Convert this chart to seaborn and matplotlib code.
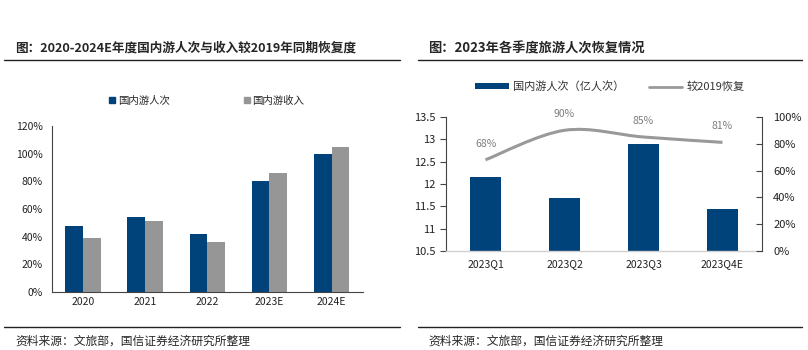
import numpy as np
import pandas as pd
import matplotlib
matplotlib.use("Agg")
import matplotlib.pyplot as plt
import seaborn as sns
from matplotlib.lines import Line2D
from matplotlib.patches import Patch, PathPatch
from matplotlib.path import Path
from matplotlib.ticker import FixedLocator, FuncFormatter

# ---- data ----
years = ["2020", "2021", "2022", "2023E", "2024E"]
trips_pct = [48, 54, 42, 80, 100]        # 国内游人次 vs 2019 (%)
revenue_pct = [39, 51, 36, 86, 105]      # 国内游收入 vs 2019 (%)

quarters = ["2023Q1", "2023Q2", "2023Q3", "2023Q4E"]
q_trips = [12.16, 11.68, 12.90, 11.45]   # 亿人次
q_recovery = [68, 90, 85, 81]            # 较2019恢复 (%)

BLUE = "#00427a"
GRAY = "#969696"
LINE_GRAY = "#999999"

sns.set_style("white")
plt.rcParams["font.family"] = ["Noto Sans CJK SC", "DejaVu Sans"]
plt.rcParams["axes.unicode_minus"] = False

fig = plt.figure(figsize=(8.08, 3.5), dpi=100)

# ---- left chart ----
ax1 = fig.add_axes([0.064, 0.166, 0.385, 0.474])
df1 = pd.DataFrame({
    "year": years * 2,
    "value": trips_pct + revenue_pct,
    "series": ["国内游人次"] * len(years) + ["国内游收入"] * len(years),
})
sns.barplot(data=df1, x="year", y="value", hue="series", palette=[BLUE, GRAY],
            width=0.57, gap=0, linewidth=0, saturation=1, ax=ax1, legend=False)
ax1.set_ylim(0, 120)
ax1.set_xlim(-0.5, len(years) - 0.5)
ax1.set_yticks(range(0, 121, 20))
ax1.yaxis.set_major_formatter(FuncFormatter(lambda v, p: f"{int(v)}%"))
ax1.xaxis.set_minor_locator(FixedLocator(np.arange(-0.5, len(years), 1.0)))
ax1.tick_params(axis="x", which="major", length=0, labelsize=7.5, pad=4, colors="#222222")
ax1.tick_params(axis="x", which="minor", length=3, width=0.8, color="#444444", direction="out")
ax1.tick_params(axis="y", length=3, width=0.8, color="#444444", direction="out",
                labelsize=7.5, labelcolor="#222222")
ax1.set_xlabel("")
ax1.set_ylabel("")
for s in ["top", "right"]:
    ax1.spines[s].set_visible(False)
for s in ["left", "bottom"]:
    ax1.spines[s].set_color("#444444")
    ax1.spines[s].set_linewidth(0.8)

h1 = [Line2D([], [], marker="s", linestyle="", color=BLUE, markersize=4),
      Line2D([], [], marker="s", linestyle="", color=GRAY, markersize=4)]
fig.legend(h1, ["国内游人次", "国内游收入"], loc="center", bbox_to_anchor=(0.255, 0.712),
           ncol=2, frameon=False, fontsize=7.5, handletextpad=0.1, columnspacing=7,
           handlelength=0.8)

# ---- right chart ----
ax2 = fig.add_axes([0.552, 0.283, 0.391, 0.383])
df2 = pd.DataFrame({"quarter": quarters, "trips": q_trips})
sns.barplot(data=df2, x="quarter", y="trips", color=BLUE, width=0.4,
            linewidth=0, saturation=1, ax=ax2)
ax2.set_ylim(10.5, 13.5)
ax2.set_xlim(-0.5, len(quarters) - 0.5)
ax2.set_yticks(np.arange(10.5, 13.51, 0.5))
ax2.yaxis.set_major_formatter(FuncFormatter(lambda v, p: f"{v:g}"))
ax2.xaxis.set_minor_locator(FixedLocator(np.arange(-0.5, len(quarters), 1.0)))
ax2.tick_params(axis="x", which="major", length=0, labelsize=7.5, pad=6, colors="#222222")
ax2.tick_params(axis="x", which="minor", length=3, width=0.8, color="#d0d0d0", direction="out")
ax2.tick_params(axis="y", length=4, width=0.8, color="#444444", direction="out",
                labelsize=8, labelcolor="#222222")
ax2.set_xlabel("")
ax2.set_ylabel("")
ax2.spines["top"].set_visible(False)
ax2.spines["right"].set_visible(False)
ax2.spines["left"].set_color("#444444")
ax2.spines["left"].set_linewidth(0.8)
ax2.spines["bottom"].set_color("#d0d0d0")
ax2.spines["bottom"].set_linewidth(1.0)

ax3 = ax2.twinx()
ax3.set_ylim(0, 100)
ax3.set_yticks(range(0, 101, 20))
ax3.yaxis.set_major_formatter(FuncFormatter(lambda v, p: f"{int(v)}%"))
ax3.tick_params(axis="y", length=4, width=0.8, color="#444444", direction="in",
                labelsize=8, labelcolor="#222222", pad=8)
for s in ["top", "left", "bottom"]:
    ax3.spines[s].set_visible(False)
ax3.spines["right"].set_color("#444444")
ax3.spines["right"].set_linewidth(0.8)

# smoothed recovery line (Catmull-Rom -> cubic Bezier through the data points)
xs = np.arange(len(quarters), dtype=float)
ys = np.array(q_recovery, dtype=float)
verts = [(xs[0], ys[0])]
codes = [Path.MOVETO]
for i in range(len(xs) - 1):
    p0 = np.array([xs[max(i - 1, 0)], ys[max(i - 1, 0)]])
    p1 = np.array([xs[i], ys[i]])
    p2 = np.array([xs[i + 1], ys[i + 1]])
    p3 = np.array([xs[min(i + 2, len(xs) - 1)], ys[min(i + 2, len(xs) - 1)]])
    c1 = p1 + (p2 - p0) / 6
    c2 = p2 - (p3 - p1) / 6
    verts += [tuple(c1), tuple(c2), tuple(p2)]
    codes += [Path.CURVE4] * 3
ax3.add_patch(PathPatch(Path(verts, codes), facecolor="none", edgecolor=LINE_GRAY,
                        linewidth=2.2, capstyle="butt"))
for x, y in zip(xs, ys):
    ax3.annotate(f"{int(y)}%", (x, y), xytext=(0, 8), textcoords="offset points",
                 ha="center", va="bottom", fontsize=7.5, color="#7f7f7f")

h2 = [Patch(facecolor=BLUE, edgecolor="none"),
      Line2D([], [], color=LINE_GRAY, linewidth=2)]
leg2 = fig.legend(h2, ["国内游人次（亿人次）", "较2019恢复"], loc="center",
                  bbox_to_anchor=(0.755, 0.752), ncol=2, frameon=False, fontsize=8,
                  handlelength=3.0, handleheight=0.5, handletextpad=0.4, columnspacing=2.2)
for t in leg2.get_texts():
    t.set_color("#333333")

# ---- titles, rules, footnotes ----
fig.text(0.019, 0.862, "图：2020-2024E年度国内游人次与收入较2019年同期恢复度",
         fontsize=9.1, fontweight="bold", va="center", ha="left")
fig.text(0.530, 0.862, "图：2023年各季度旅游人次恢复情况",
         fontsize=9.5, fontweight="bold", va="center", ha="left")
for x0, x1 in [(0.005, 0.495), (0.517, 0.993)]:
    fig.add_artist(Line2D([x0, x1], [0.828, 0.828], color="#222222", linewidth=1.0))
    fig.add_artist(Line2D([x0, x1], [0.066, 0.066], color="#222222", linewidth=1.0))
fig.text(0.019, 0.026, "资料来源：文旅部，国信证券经济研究所整理", fontsize=8.5, va="center")
fig.text(0.530, 0.026, "资料来源：文旅部，国信证券经济研究所整理", fontsize=8.5, va="center")

fig.savefig("out.png", dpi=100)
